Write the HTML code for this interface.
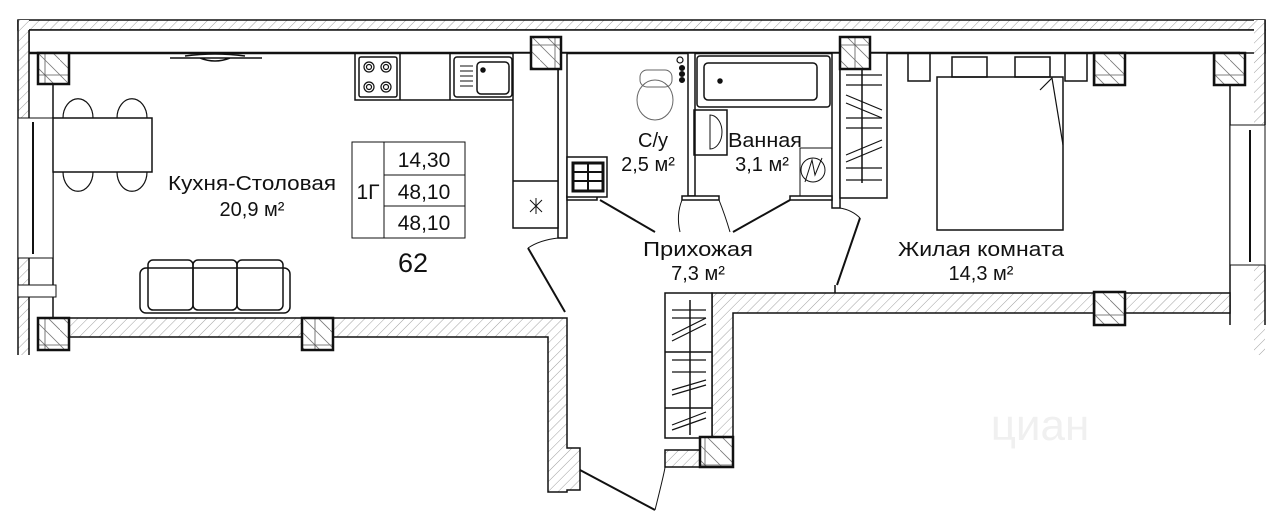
<!DOCTYPE html>
<html><head><meta charset="utf-8"><style>
html,body{margin:0;padding:0;background:#fff;width:1280px;height:518px;overflow:hidden}
svg{display:block}
text{font-family:"Liberation Sans","DejaVu Sans",sans-serif;fill:#111}
</style></head><body>
<svg width="1280" height="518" viewBox="0 0 1280 518" xmlns="http://www.w3.org/2000/svg">
<defs>
<pattern id="h" width="7" height="7" patternUnits="userSpaceOnUse" patternTransform="rotate(45)">
<rect width="7" height="7" fill="#fff"/><line x1="0" y1="0" x2="0" y2="7" stroke="#888" stroke-width="0.8"/></pattern>
<pattern id="c" width="30" height="30" patternUnits="userSpaceOnUse">
<rect width="30" height="30" fill="#fff"/><line x1="0" y1="0" x2="30" y2="30" stroke="#777" stroke-width="0.8"/><line x1="15" y1="0" x2="15" y2="30" stroke="#555" stroke-width="0.8"/><line x1="0" y1="15" x2="30" y2="15" stroke="#555" stroke-width="0.8"/><line x1="15" y1="0" x2="30" y2="15" stroke="#777" stroke-width="0.8"/><line x1="0" y1="15" x2="15" y2="30" stroke="#777" stroke-width="0.8"/></pattern>
</defs>
<g stroke="#111" fill="none" stroke-width="1.5">
<rect x="18" y="20" width="1247" height="10" fill="url(#h)"/>
<rect x="29" y="30" width="1236" height="23" fill="#fff"/>
<line x1="29" y1="53" x2="1240" y2="53" stroke-width="2.5"/>
<rect x="18" y="20" width="11" height="335" fill="url(#h)" stroke="none"/>
<line x1="18" y1="20" x2="18" y2="355"/>
<line x1="29" y1="30" x2="29" y2="118"/><line x1="29" y1="258" x2="29" y2="355"/>
<line x1="53" y1="53" x2="53" y2="318"/>
<rect x="18" y="118" width="35" height="140" fill="#fff" stroke-width="1"/>
<line x1="33" y1="122" x2="33" y2="254" stroke-width="2"/>
<rect x="18" y="285" width="38" height="12" fill="#fff" stroke-width="1"/>
<rect x="1254" y="20" width="11" height="335" fill="url(#h)" stroke="none"/>
<line x1="1265" y1="20" x2="1265" y2="125"/><line x1="1265" y1="265" x2="1265" y2="325"/>
<line x1="1230" y1="53" x2="1230" y2="325"/>
<rect x="1230" y="125" width="35" height="140" fill="#fff" stroke-width="1"/>
<line x1="1250" y1="130" x2="1250" y2="262" stroke-width="2"/>
<path d="M53 318 H567 V448 H580 V490 H567 V492 H548 V337 H53 Z" fill="url(#h)"/>
<path d="M712 293 H1230 V313 H733 V438 H712 Z" fill="url(#h)"/>
<rect x="665" y="450" width="35" height="17" fill="url(#h)"/>
<rect x="665" y="293" width="47" height="145" fill="#fff"/>
<line x1="665" y1="352" x2="712" y2="352"/><line x1="665" y1="408" x2="712" y2="408"/>
<line x1="690" y1="300" x2="690" y2="435"/>
<g stroke-width="1.2"><line x1="672" y1="310" x2="706" y2="310"/><line x1="672" y1="318" x2="706" y2="318"/><line x1="672" y1="335" x2="706" y2="318"/><line x1="672" y1="341" x2="706" y2="324"/><line x1="672" y1="360" x2="706" y2="360"/><line x1="672" y1="372" x2="706" y2="372"/><line x1="672" y1="390" x2="706" y2="380"/><line x1="672" y1="395" x2="706" y2="385"/><line x1="672" y1="425" x2="706" y2="412"/><line x1="672" y1="430" x2="706" y2="418"/></g>
<line x1="580" y1="470" x2="655" y2="510" stroke-width="2"/>
<path d="M655 510 Q665 470 665 467" stroke-width="1"/>
<rect x="558" y="53" width="9" height="185" fill="#fff"/>
<rect x="688" y="53" width="7" height="143" fill="#fff"/>
<rect x="832" y="53" width="8" height="155" fill="#fff"/>
<rect x="567" y="196" width="30" height="4" fill="#fff"/><rect x="682" y="196" width="37" height="4" fill="#fff"/><rect x="790" y="196" width="42" height="4" fill="#fff"/>
<line x1="600" y1="200" x2="655" y2="232" stroke-width="2"/>
<line x1="733" y1="232" x2="790" y2="200" stroke-width="2"/>
<path d="M682 200 Q676 215 680 232 M719 200 Q725 215 730 232" stroke-width="1"/>
<line x1="528" y1="248" x2="565" y2="312" stroke-width="2"/>
<path d="M528 248 Q540 240 558 238" stroke-width="1"/>
<line x1="860" y1="218" x2="837" y2="285" stroke-width="2"/>
<path d="M840 208 Q852 210 860 218" stroke-width="1"/><line x1="835" y1="285" x2="835" y2="293"/>
<rect x="513" y="53" width="45" height="175" fill="#fff"/><line x1="513" y1="181" x2="558" y2="181"/>
<path d="M355 53 V100 H513" /><line x1="400" y1="53" x2="400" y2="100"/><line x1="450" y1="53" x2="450" y2="100"/>
<rect x="359" y="57" width="38" height="40" rx="2"/>
<g stroke-width="1.2"><circle cx="369" cy="67" r="5"/><circle cx="386" cy="67" r="5"/><circle cx="369" cy="87" r="5"/><circle cx="386" cy="87" r="5"/><circle cx="369" cy="67" r="2.5"/><circle cx="386" cy="67" r="2.5"/><circle cx="369" cy="87" r="2.5"/><circle cx="386" cy="87" r="2.5"/></g>
<rect x="454" y="57" width="58" height="40" rx="3"/><rect x="477" y="62" width="32" height="32" rx="4"/>
<g stroke-width="1"><line x1="460" y1="66" x2="473" y2="66"/><line x1="460" y1="71" x2="473" y2="71"/><line x1="460" y1="76" x2="473" y2="76"/><line x1="460" y1="81" x2="473" y2="81"/><line x1="460" y1="86" x2="473" y2="86"/></g>
<circle cx="483" cy="70" r="2" fill="#111"/>
<path d="M530 200 l12 12 M542 200 l-12 12 M536 198 v16" stroke-width="1"/>
<rect x="567" y="157" width="40" height="40" fill="#fff"/><rect x="573" y="163" width="30" height="28" stroke-width="3"/>
<line x1="588" y1="163" x2="588" y2="191" stroke-width="2"/><line x1="573" y1="172" x2="603" y2="172" stroke-width="2"/><line x1="573" y1="181" x2="603" y2="181" stroke-width="2"/>
<rect x="53" y="118" width="99" height="54" fill="#fff"/>
<g stroke-width="1.2"><path d="M63 118 a14 18 0 1 1 30 0 M117 118 a14 18 0 1 1 30 0 M63 172 a14 18 0 1 0 30 0 M117 172 a14 18 0 1 0 30 0"/></g>
<path d="M170 58 H262 M185 56 Q215 52 245 56 M200 58 Q215 64 230 58" stroke-width="1.5"/>
<rect x="140" y="268" width="150" height="45" rx="6"/>
<rect x="148" y="260" width="45" height="50" rx="5"/><rect x="193" y="260" width="44" height="50" rx="5"/><rect x="237" y="260" width="46" height="50" rx="5"/>
<rect x="352" y="142" width="113" height="96" stroke-width="1"/>
<line x1="384" y1="142" x2="384" y2="238" stroke-width="1"/>
<line x1="384" y1="175" x2="465" y2="175" stroke-width="1"/><line x1="384" y1="206" x2="465" y2="206" stroke-width="1"/>
<ellipse cx="655" cy="100" rx="18" ry="20" stroke-width="1" stroke="#666"/><rect x="640" y="70" width="32" height="17" rx="7" stroke-width="1" stroke="#666"/>
<circle cx="680" cy="60" r="3" stroke-width="1.2"/><circle cx="682" cy="68" r="2.3" fill="#111"/><circle cx="682" cy="74" r="2.3" fill="#111"/><circle cx="682" cy="80" r="2.3" fill="#111"/>
<rect x="697" y="56" width="133" height="51" rx="3"/><rect x="704" y="63" width="113" height="37" rx="4"/>
<circle cx="720" cy="81" r="2" fill="#111"/>
<rect x="694" y="110" width="33" height="45"/><path d="M710 115 a12 17 0 0 1 0 34 Z" stroke-width="1"/>
<rect x="800" y="148" width="32" height="48" stroke-width="1"/><circle cx="813" cy="170" r="12" stroke-width="1"/><path d="M805 182 L812 160 L815 175 L822 158" stroke-width="1"/>
<rect x="840" y="53" width="47" height="145" fill="#fff"/>
<line x1="862" y1="60" x2="862" y2="183"/>
<g stroke-width="1.2"><line x1="846" y1="75" x2="882" y2="75"/><line x1="846" y1="85" x2="882" y2="85"/><line x1="846" y1="95" x2="882" y2="110"/><line x1="846" y1="103" x2="882" y2="118"/><line x1="846" y1="118" x2="882" y2="118"/><line x1="846" y1="128" x2="882" y2="128"/><line x1="846" y1="155" x2="882" y2="140"/><line x1="846" y1="162" x2="882" y2="147"/><line x1="846" y1="168" x2="882" y2="168"/><line x1="846" y1="180" x2="882" y2="180"/></g>
<rect x="908" y="53" width="22" height="28"/><rect x="1065" y="53" width="22" height="28"/>
<rect x="937" y="77" width="126" height="153" fill="#fff"/>
<rect x="952" y="57" width="35" height="20"/><rect x="1015" y="57" width="35" height="20"/>
<path d="M1040 90 L1052 78 L1063 145" stroke-width="1.2"/>
<g stroke-width="2.5" fill="url(#c)">
<rect x="38" y="53" width="31" height="31"/><rect x="531" y="37" width="30" height="32"/><rect x="840" y="37" width="30" height="32"/>
<rect x="1094" y="53" width="31" height="32"/><rect x="1214" y="53" width="31" height="32"/>
<rect x="38" y="318" width="31" height="32"/><rect x="302" y="318" width="31" height="32"/>
<rect x="1094" y="292" width="31" height="33"/><rect x="700" y="437" width="33" height="30"/>
</g>
</g>
<g text-anchor="middle" font-size="20">
<text x="252" y="190" textLength="168" lengthAdjust="spacingAndGlyphs">Кухня-Столовая</text>
<text x="252" y="216">20,9 м²</text>
<text x="653" y="147">С/у</text>
<text x="648" y="171">2,5 м²</text>
<text x="765" y="147" textLength="74" lengthAdjust="spacingAndGlyphs">Ванная</text>
<text x="762" y="171">3,1 м²</text>
<text x="698" y="256" textLength="110" lengthAdjust="spacingAndGlyphs">Прихожая</text>
<text x="698" y="280">7,3 м²</text>
<text x="981" y="256" textLength="166" lengthAdjust="spacingAndGlyphs">Жилая комната</text>
<text x="981" y="280">14,3 м²</text>
<text x="424" y="167" font-size="21">14,30</text>
<text x="424" y="199" font-size="21">48,10</text>
<text x="424" y="230" font-size="21">48,10</text>
<text x="368" y="199" font-size="21">1Г</text>
<text x="413" y="272" font-size="27" fill="#333">62</text>
<text x="1040" y="440" font-size="44" style="fill:#f0f0f0">циан</text>
</g>
</svg>
</body></html>
